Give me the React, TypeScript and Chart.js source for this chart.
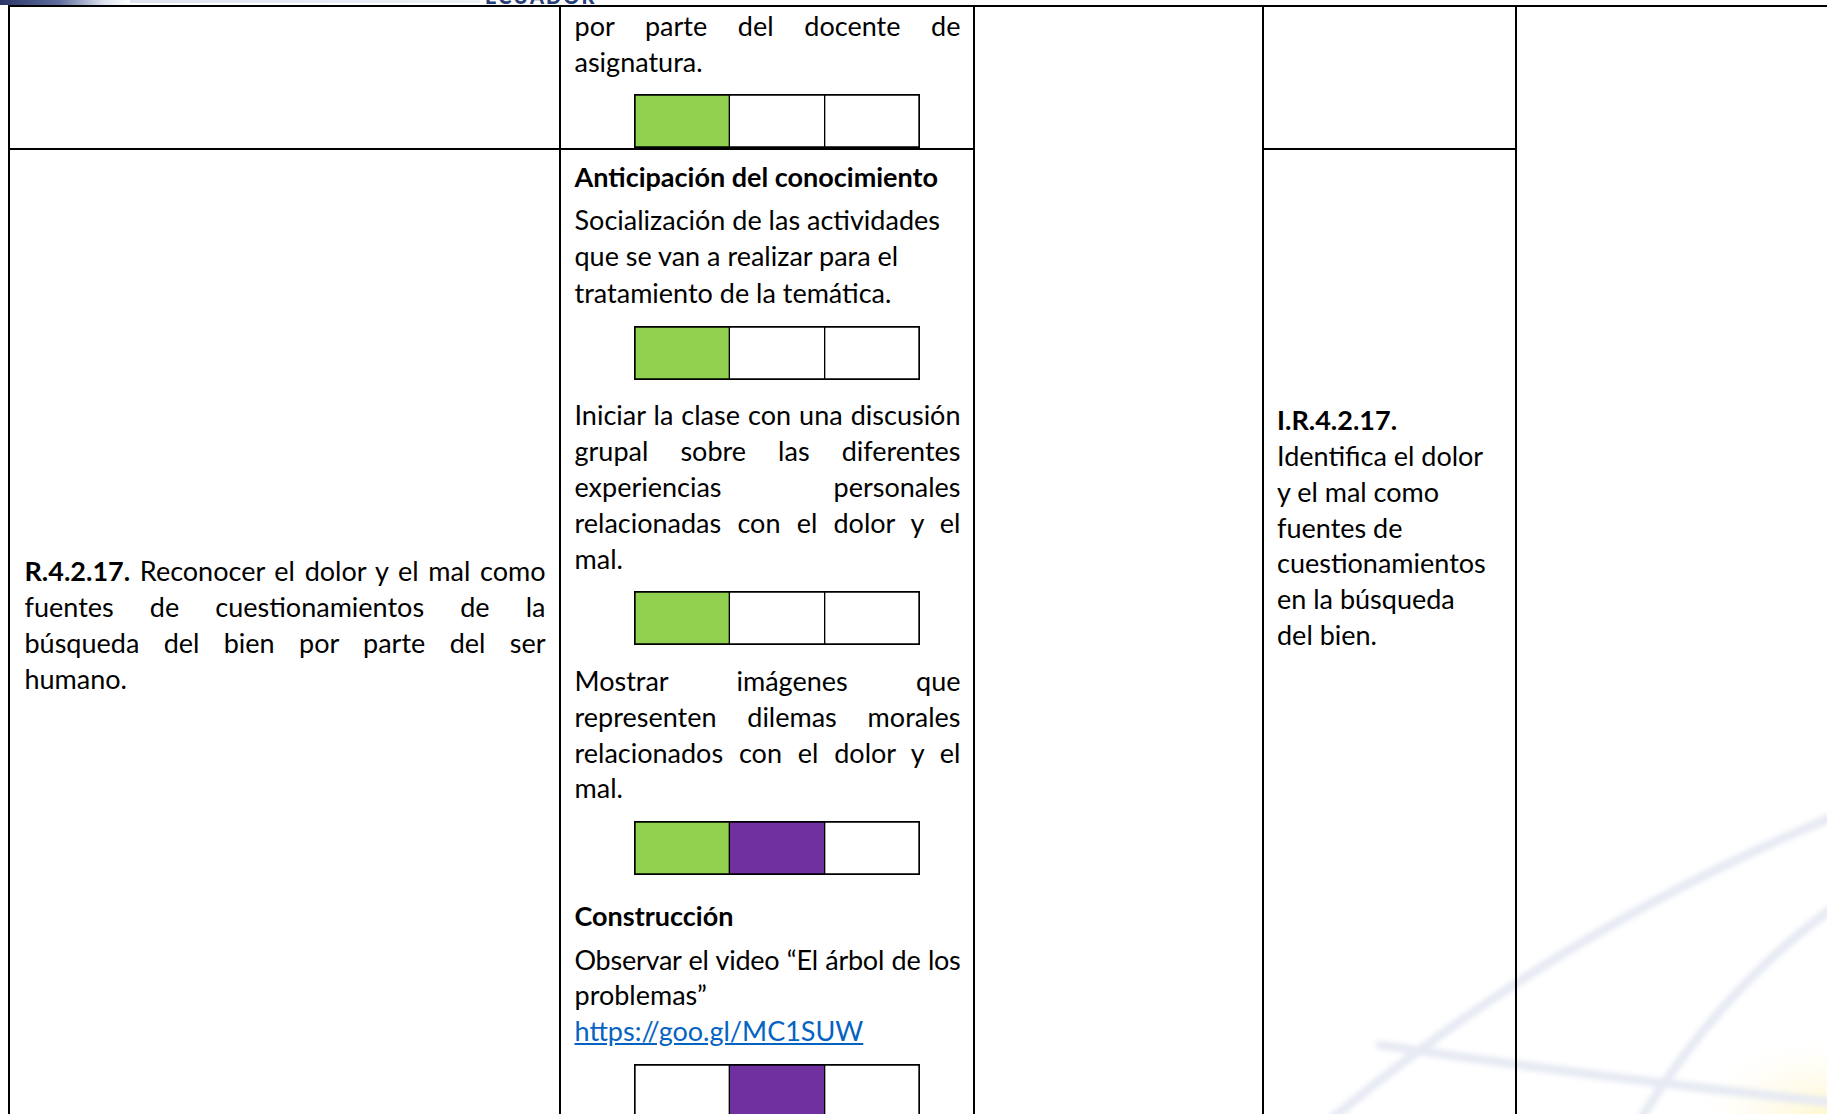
import React, { useEffect, useRef } from "react";
import { Chart, registerables } from "chart.js";

Chart.register(...registerables);

// ---------- data ----------
const boxNames = ["Docente de asignatura", "Socialización", "Discusión grupal", "Dilemas morales", "Video"];
const levelNames = ["Nivel 1", "Nivel 2", "Nivel 3"];
const cellUnits = [1, 1, 1];
const markedLevel1 = [1, 1, 1, 1, 0];
const markedLevel2 = [0, 0, 0, 1, 1];
const markedLevel3 = [0, 0, 0, 0, 0];

const col1Lines = [
  "R.4.2.17.| Reconocer el dolor y el mal como",
  "fuentes de cuestionamientos de la",
  "búsqueda del bien por parte del ser",
  "humano.",
];
const col2Lines = [
  "por parte del docente de",
  "asignatura.",
  "Anticipación del conocimiento",
  "Socialización de las actividades",
  "que se van a realizar para el",
  "tratamiento de la temática.",
  "Iniciar la clase con una discusión",
  "grupal sobre las diferentes",
  "experiencias personales",
  "relacionadas con el dolor y el",
  "mal.",
  "Mostrar imágenes que",
  "representen dilemas morales",
  "relacionados con el dolor y el",
  "mal.",
  "Construcción",
  "Observar el video “El árbol de los",
  "problemas”",
  "https://goo.gl/MC1SUW",
];
const col4Lines = [
  "I.R.4.2.17.",
  "Identifica el dolor",
  "y el mal como",
  "fuentes de",
  "cuestionamientos",
  "en la búsqueda",
  "del bien.",
];

// ---------- layout / style ----------
const FONT = "Lato, 'Open Sans', sans-serif";
const FS = 27;
const LH = 36;
const LEVEL_COLORS = ["#92D050", "#7030A0", "#FFC000"];
const marks = [markedLevel1, markedLevel2, markedLevel3];

const col1Y = [570.9, 607.1, 643.2, 679.3];
const col1Style = ["j", "j", "j", "l"];
const col2Y = [25.6, 61.8, 177.1, 220.2, 256.3, 292.5, 414.8, 450.9, 487.1, 523.2, 559.3, 680.5, 716.6, 752.7, 787.7, 915.9, 960.1, 995.1, 1031.2];
const col2Style = ["j", "l", "b", "l", "l", "l", "j", "j", "j", "j", "l", "j", "j", "j", "l", "b", "jt", "l", "a"];
const col4Y = [419.5, 455.6, 491.7, 527.8, 562.8, 598.9, 635.0];
const col4Style = ["b", "l", "l", "l", "l", "l", "l"];
const boxTops = [94, 326, 591, 821, 1064];

function CellBox({ index, top }: { index: number; top: number }) {
  const ref = useRef<HTMLCanvasElement | null>(null);
  useEffect(() => {
    if (!ref.current) return;
    const n = levelNames.length;
    const chart = new Chart(ref.current, {
      type: "bar",
      data: {
        labels: [boxNames[index]],
        datasets: levelNames.map((name, j) => ({
          label: name,
          data: [cellUnits[j]],
          backgroundColor: marks[j][index] ? LEVEL_COLORS[j] : "#FFFFFF",
          borderColor: "#000000",
          borderWidth: { top: 2, bottom: 2, left: j === 0 ? 2 : 1, right: j === n - 1 ? 2 : 1 },
          borderSkipped: false,
          barPercentage: 1,
          categoryPercentage: 1,
        })),
      },
      options: {
        indexAxis: "y",
        animation: false,
        responsive: false,
        maintainAspectRatio: false,
        layout: { padding: 0 },
        plugins: { legend: { display: false }, tooltip: { enabled: false } },
        scales: {
          x: { display: false, stacked: true, min: 0, max: 3 },
          y: { display: false, stacked: true },
        },
      },
    } as any);
    return () => chart.destroy();
  }, [index]);
  return (
    <canvas
      ref={ref}
      width={286}
      height={54}
      style={{ position: "absolute", left: 634, top, width: 286, height: 54 }}
    />
  );
}

function Line({ text, x, y, w, kind }: { text: string; x: number; y: number; w: number; kind: string }) {
  const just = kind === "j" || kind === "jt";
  const base: React.CSSProperties = {
    position: "absolute",
    left: x,
    top: y - 18,
    width: w,
    height: LH,
    lineHeight: LH + "px",
    fontSize: FS,
    fontFamily: FONT,
    color: "#000",
    whiteSpace: "nowrap",
    textAlign: just ? "justify" : "left",
    textAlignLast: just ? ("justify" as any) : ("left" as any),
    fontWeight: kind === "b" ? 700 : 400,
    letterSpacing: kind === "jt" ? "-0.25px" : undefined,
  };
  if (kind === "a") {
    return (
      <div style={base}>
        <span style={{ color: "#0563C1", textDecoration: "underline" }}>{text}</span>
      </div>
    );
  }
  if (text.includes("|")) {
    const [b, rest] = text.split("|");
    return (
      <div style={base}>
        <b>{b}</b>
        {rest}
      </div>
    );
  }
  return <div style={base}>{text}</div>;
}

const rule = (l: number, t: number, w: number, h: number, k: string) => (
  <div key={k} style={{ position: "absolute", left: l, top: t, width: w, height: h, background: "#000" }} />
);

export default function App() {
  return (
    <div
      style={{
        position: "absolute",
        left: 0,
        top: 0,
        width: 1827,
        height: 1114,
        overflow: "hidden",
        background: "#fff",
      }}
    >
      {/* faint watermark */}
      <svg width={1827} height={1114} style={{ position: "absolute", left: 0, top: 0 }}>
        <defs>
          <filter id="blur" x="-10%" y="-10%" width="120%" height="120%">
            <feGaussianBlur stdDeviation="2.5" />
          </filter>
          <radialGradient id="glow" cx="1" cy="1" r="1">
            <stop offset="0" stopColor="#fff6cc" stopOpacity="0.9" />
            <stop offset="1" stopColor="#fffbe8" stopOpacity="0" />
          </radialGradient>
        </defs>
        <rect x={1700} y={1040} width={127} height={74} fill="url(#glow)" />
        <g fill="none" stroke="#e6eaf3" strokeWidth={9} filter="url(#blur)" strokeLinecap="round">
          <path d="M 1330 1120 Q 1560 930 1830 818" />
          <path d="M 1640 1120 Q 1720 990 1830 910" />
          <path d="M 1380 1045 Q 1600 1078 1830 1102" />
        </g>
      </svg>

      {/* header fragment */}
      <div
        style={{
          position: "absolute",
          left: 0,
          top: 0,
          width: 130,
          height: 5,
          background: "linear-gradient(90deg, #2a3766 0%, #5d6c9a 45%, rgba(200,210,230,0.6) 80%, rgba(255,255,255,0) 100%)",
        }}
      />
      <div
        style={{
          position: "absolute",
          left: 130,
          top: 0,
          width: 350,
          height: 3,
          background: "linear-gradient(90deg, rgba(200,210,230,0.6), rgba(220,226,238,0.5))",
        }}
      />
      <div style={{ position: "absolute", left: 485, top: -16, height: 20, overflow: "hidden", fontFamily: FONT, fontWeight: 900, fontSize: 20, color: "#27407a", letterSpacing: 2 }}>
        ECUADOR
      </div>

      {/* table rules */}
      {rule(8, 5, 1819, 2, "top")}
      {rule(8, 5, 2, 1109, "left")}
      {rule(559, 5, 2, 1109, "v1")}
      {rule(973, 5, 2, 1109, "v2")}
      {rule(1262, 5, 2, 1109, "v3")}
      {rule(1515, 5, 2, 1109, "v4")}
      {rule(8, 148, 967, 2, "h1")}
      {rule(1262, 148, 255, 2, "h2")}

      {col1Lines.map((t, i) => (
        <Line key={"c1" + i} text={t} x={24.5} y={col1Y[i]} w={521} kind={col1Style[i]} />
      ))}
      {col2Lines.map((t, i) => (
        <Line key={"c2" + i} text={t} x={574.5} y={col2Y[i]} w={386} kind={col2Style[i]} />
      ))}
      {col4Lines.map((t, i) => (
        <Line key={"c4" + i} text={t} x={1277} y={col4Y[i]} w={225} kind={col4Style[i]} />
      ))}

      {boxTops.map((t, i) => (
        <CellBox key={"b" + i} index={i} top={t} />
      ))}
    </div>
  );
}
